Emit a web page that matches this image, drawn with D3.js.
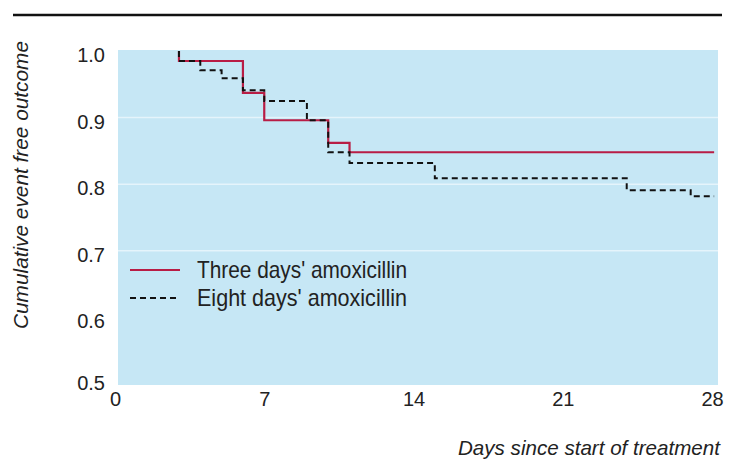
<!DOCTYPE html>
<html>
<head>
<meta charset="utf-8">
<script src="https://cdn.jsdelivr.net/npm/d3@7"></script>
<style>
  body { margin: 0; background: #fff; }
  svg { display: block; }
</style>
</head>
<body>
<div id="chart"></div>
<script>
// Kaplan-Meier steps: [day, survival from that day on]
const threeDays = [[3, 1.0], [3, 0.985], [6, 0.937], [7, 0.896], [10, 0.862], [11, 0.848], [28.1, 0.848]];
const eightDays = [[3, 1.0], [3, 0.985], [4, 0.971], [5, 0.959], [6, 0.941], [7, 0.925], [9, 0.896],
                   [10, 0.848], [11, 0.832], [15, 0.809], [24, 0.791], [27, 0.782], [28.1, 0.782]];
const xTicks = [0, 7, 14, 21, 28];
const yTicks = [0.5, 0.6, 0.7, 0.8, 0.9, 1.0];
const gridValues = [0.7, 0.8, 0.9];
const legendLabels = ["Three days' amoxicillin", "Eight days' amoxicillin"];

const width = 729, height = 466;
const tickFont = "'Liberation Sans', Arimo, Roboto, Arial, sans-serif";
const narrowFont = "'Liberation Sans Narrow', 'Liberation Sans', Roboto, Arial, sans-serif";

const svg = d3.select("#chart")
  .append("svg")
    .attr("width", width)
    .attr("height", height);

// scales
const x = d3.scaleLinear().domain([0, 28]).range([115, 712]);
const y = d3.scaleLinear().domain([0.5, 1.0]).range([384, 51]);

// rule across the top
svg.append("line")
  .attr("x1", 13).attr("x2", 722)
  .attr("y1", 15).attr("y2", 15)
  .attr("stroke", "#111")
  .attr("stroke-width", 2.5);

// plot background
svg.append("rect")
  .attr("x", x(0) + 3)
  .attr("y", y(1.0) - 1)
  .attr("width", 718 - (x(0) + 3))
  .attr("height", y(0.5) - y(1.0) + 2)
  .attr("fill", "#c6e7f5");

// faint white gridlines
svg.append("g")
  .selectAll("line")
  .data(gridValues)
  .join("line")
    .attr("x1", x(0) + 3).attr("x2", 718)
    .attr("y1", d => y(d)).attr("y2", d => y(d))
    .attr("stroke", "#fff")
    .attr("stroke-opacity", 0.55)
    .attr("stroke-width", 1.5);

// Y axis
const yAxis = svg.append("g")
  .attr("transform", "translate(105,0)")
  .call(d3.axisLeft(y).tickValues(yTicks).tickFormat(d3.format(".1f")).tickSize(0).tickPadding(0));
yAxis.select(".domain").remove();
yAxis.selectAll("text")
  .attr("dy", d => d === 0.5 ? "0.25em" : "0.52em")
  .style("font-family", tickFont)
  .style("font-size", "20px")
  .style("fill", "#222");

// X axis
const xAxis = svg.append("g")
  .attr("transform", "translate(0,392)")
  .call(d3.axisBottom(x).tickValues(xTicks).tickSize(0).tickPadding(0));
xAxis.select(".domain").remove();
xAxis.selectAll("text")
  .style("font-family", tickFont)
  .style("font-size", "20px")
  .style("fill", "#222");

// survival curves
const line = d3.line()
  .x(d => x(d[0]))
  .y(d => y(d[1]))
  .curve(d3.curveStepAfter);

svg.append("path")
  .datum(threeDays)
  .attr("d", line)
  .attr("fill", "none")
  .attr("stroke", "#b81d45")
  .attr("stroke-width", 2.2);

svg.append("path")
  .datum(eightDays)
  .attr("d", line)
  .attr("fill", "none")
  .attr("stroke", "#111")
  .attr("stroke-width", 2)
  .attr("stroke-dasharray", "6,4");

// legend
const legend = svg.append("g")
  .selectAll("g")
  .data(legendLabels)
  .join("g")
    .attr("transform", (d, i) => `translate(0, ${270 + i * 28})`);

legend.append("line")
  .attr("x1", 130).attr("x2", 180)
  .attr("stroke", (d, i) => i === 0 ? "#b81d45" : "#111")
  .attr("stroke-width", 2)
  .attr("stroke-dasharray", (d, i) => i === 0 ? null : "6,4");

legend.append("text")
  .attr("x", 197)
  .attr("y", 8)
  .attr("textLength", 210)
  .attr("lengthAdjust", "spacingAndGlyphs")
  .style("font-family", narrowFont)
  .style("font-size", "24px")
  .style("fill", "#222")
  .text(d => d);

// axis titles
svg.append("text")
  .attr("transform", "translate(28,185) rotate(-90)")
  .attr("text-anchor", "middle")
  .attr("textLength", 288)
  .attr("lengthAdjust", "spacingAndGlyphs")
  .style("font-family", narrowFont)
  .style("font-style", "italic")
  .style("font-size", "20px")
  .style("fill", "#222")
  .text("Cumulative event free outcome");

svg.append("text")
  .attr("x", 720)
  .attr("y", 455)
  .attr("text-anchor", "end")
  .attr("textLength", 262)
  .attr("lengthAdjust", "spacingAndGlyphs")
  .style("font-family", narrowFont)
  .style("font-style", "italic")
  .style("font-size", "21px")
  .style("fill", "#222")
  .text("Days since start of treatment");
</script>
</body>
</html>
